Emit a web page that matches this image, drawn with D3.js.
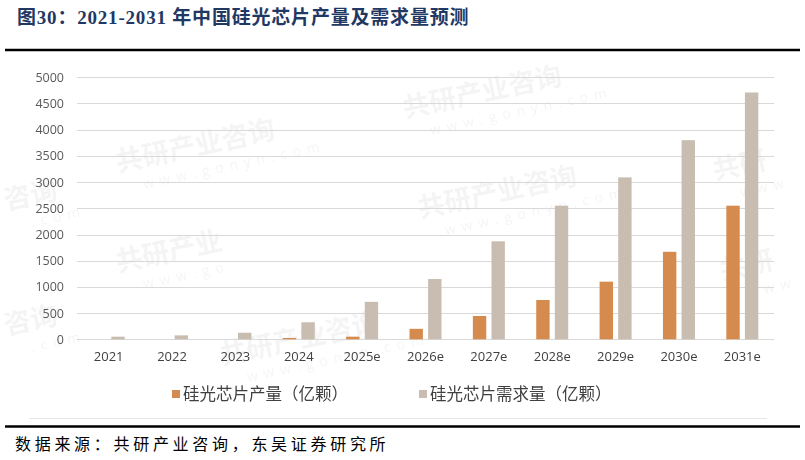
<!DOCTYPE html>
<html>
<head>
<meta charset="utf-8">
<script src="https://cdn.jsdelivr.net/npm/d3@7"></script>
<style>
  body { margin: 0; background: #fff; }
  svg { display: block; }
</style>
</head>
<body>
<svg id="graph"></svg>
<script>
// chart data
var years = ["2021", "2022", "2023", "2024", "2025e", "2026e", "2027e", "2028e", "2029e", "2030e", "2031e"];
var seriesNames = ["硅光芯片产量（亿颗）", "硅光芯片需求量（亿颗）"];
var output = [0, 0, 0, 25, 50, 200, 445, 750, 1100, 1670, 2550];
var demand = [50, 75, 125, 325, 715, 1150, 1870, 2550, 3090, 3800, 4710];
var yTicks = [0, 500, 1000, 1500, 2000, 2500, 3000, 3500, 4000, 4500, 5000];

var colors = ["#D68B4E", "#C8BDB0"];

var svg = d3.select("#graph")
    .attr("width", 805)
    .attr("height", 460);

// title
svg.append("text")
    .attr("x", 17)
    .attr("y", 24)
    .attr("font-family", "'Liberation Serif', 'Noto Sans CJK SC', serif")
    .attr("font-weight", "bold")
    .attr("font-size", 19)
    .attr("letter-spacing", 0.8)
    .attr("fill", "#1F3864")
    .text("图30：2021-2031 年中国硅光芯片产量及需求量预测");

// heavy rules above and below the figure
svg.append("line").attr("x1", 5).attr("x2", 800).attr("y1", 50).attr("y2", 50)
    .attr("stroke", "#000").attr("stroke-width", 2.5);
svg.append("line").attr("x1", 5).attr("x2", 800).attr("y1", 426.5).attr("y2", 426.5)
    .attr("stroke", "#000").attr("stroke-width", 2.5);
// faint chart frame bottom
svg.append("line").attr("x1", 29).attr("x2", 767).attr("y1", 418.5).attr("y2", 418.5)
    .attr("stroke", "#e6e6e6").attr("stroke-width", 1);

// faint watermark stamps behind the chart (kept inside the picture)
var stamps = [
  {x: 118, y: 172, name: "共研产业咨询", url: "www.gonyn.com"},
  {x: 405, y: 118, name: "共研产业咨询", url: "www.gonyn.com"},
  {x: 420, y: 218, name: "共研产业咨询", url: "www.gonyn.com"},
  {x: 118, y: 272, name: "共研产业", url: "www.go"},
  {x: 222, y: 365, name: "共研产业咨询", url: "www.gonyn.com"},
  {x: 715, y: 180, name: "共研", url: "www"},
  {x: 722, y: 280, name: "共研", url: "www"},
  {x: 6, y: 210, name: "咨询", url: ".com"},
  {x: 6, y: 335, name: "咨询", url: ".com"}
];
var wm = svg.append("g").attr("fill", "#000").attr("opacity", 0.045);
stamps.forEach(function(p) {
  var s = wm.append("g")
      .attr("transform", "translate(" + p.x + "," + p.y + ") rotate(-12)");
  s.append("text")
      .attr("font-family", "'Noto Sans CJK SC', sans-serif")
      .attr("font-weight", "bold")
      .attr("font-size", 27)
      .text(p.name);
  s.append("text")
      .attr("x", 22).attr("y", 22)
      .attr("font-family", "'Open Sans', sans-serif")
      .attr("font-size", 14)
      .attr("letter-spacing", 6)
      .text(p.url);
});

// plot area
var plotLeft = 77, plotRight = 774, plotTop = 77.3, plotBottom = 339.3;

var x = d3.scaleBand().domain(years).range([plotLeft, plotRight]).padding(0);
var y = d3.scaleLinear().domain([0, 5000]).range([plotBottom, plotTop]);

var groupW = 32;
var x1 = d3.scaleBand().domain([0, 1])
    .range([(x.bandwidth() - groupW) / 2, (x.bandwidth() + groupW) / 2])
    .paddingInner(0.28);

// gridlines
svg.append("g")
  .selectAll("line")
  .data(yTicks)
  .enter().append("line")
    .attr("x1", plotLeft)
    .attr("x2", plotRight)
    .attr("y1", function(d) { return Math.round(y(d)) + 0.5; })
    .attr("y2", function(d) { return Math.round(y(d)) + 0.5; })
    .attr("stroke", "#D9D9D9")
    .attr("stroke-width", 1);

// y axis labels
var yAxis = svg.append("g")
    .attr("transform", "translate(" + plotLeft + ",0)")
    .call(d3.axisLeft(y).tickValues(yTicks).tickSize(0).tickPadding(13).tickFormat(d3.format("d")));
yAxis.select(".domain").remove();
yAxis.selectAll("text")
    .attr("font-family", "'Open Sans', 'Liberation Sans', sans-serif")
    .attr("font-size", 12.5)
    .attr("fill", "#595959");

// x axis labels
var xAxis = svg.append("g")
    .attr("transform", "translate(0," + plotBottom + ")")
    .call(d3.axisBottom(x).tickSize(0).tickPadding(12));
xAxis.select(".domain").remove();
xAxis.selectAll("text")
    .attr("font-family", "'Open Sans', 'Liberation Sans', sans-serif")
    .attr("font-size", 13)
    .attr("fill", "#404040");

// bars
var series = [output, demand];
series.forEach(function(vals, si) {
  svg.append("g")
    .selectAll("rect")
    .data(vals)
    .enter().append("rect")
      .attr("x", function(d, i) { return x(years[i]) + x1(si); })
      .attr("y", function(d) { return y(d); })
      .attr("width", x1.bandwidth())
      .attr("height", function(d) { return plotBottom - y(d); })
      .attr("fill", colors[si]);
});

// legend
var legendX = [172, 419];
var legend = svg.append("g")
  .selectAll("g")
  .data(seriesNames)
  .enter().append("g")
    .attr("transform", function(d, i) { return "translate(" + legendX[i] + ",394)"; });
legend.append("rect")
    .attr("x", 0).attr("y", -4)
    .attr("width", 8).attr("height", 8)
    .attr("fill", function(d, i) { return colors[i]; });
legend.append("text")
    .attr("x", 11)
    .attr("y", 6)
    .attr("font-family", "'Noto Sans CJK SC', sans-serif")
    .attr("font-size", 16.5)
    .attr("fill", "#404040")
    .text(function(d) { return d; });

// source note
svg.append("text")
    .attr("x", 15)
    .attr("y", 450)
    .attr("font-family", "'Noto Sans CJK SC', serif")
    .attr("font-size", 16)
    .attr("letter-spacing", 3.7)
    .attr("fill", "#000")
    .text("数据来源：共研产业咨询，东吴证券研究所");
</script>
</body>
</html>
